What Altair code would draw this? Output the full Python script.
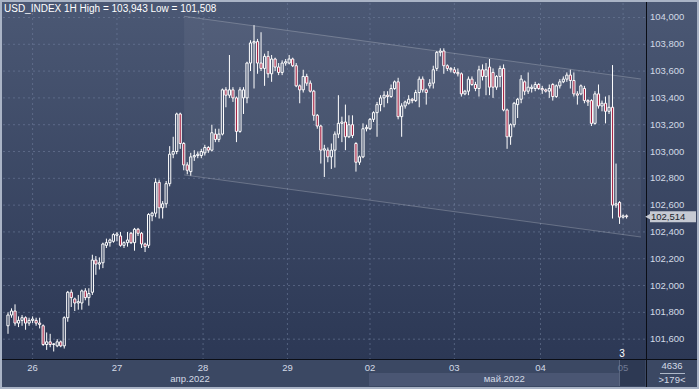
import altair as alt
import pandas as pd

title_text = "USD_INDEX 1H High = 103,943 Low = 101,508"

bar_index = list(range(-7, 170))
opens = [
    101.70, 101.78, 101.81, 101.72, 101.74, 101.76, 101.72,
    101.74, 101.74, 101.72, 101.70, 101.56, 101.58, 101.56, 101.55, 101.58, 101.55,
    101.76, 101.95, 101.90, 101.87, 101.87, 101.96, 101.91, 101.95, 102.19, 102.16,
    102.17, 102.30, 102.32, 102.33, 102.375, 102.37, 102.30, 102.32, 102.39, 102.32,
    102.42, 102.39, 102.31, 102.30, 102.52, 102.54, 102.77, 102.58, 102.61, 102.76,
    102.98, 103.00, 103.28, 103.06, 102.90, 102.85, 102.96, 102.97, 102.97, 102.99,
    103.03, 103.01, 103.13, 103.09, 103.13, 103.46, 103.42, 103.46, 103.40, 103.15,
    103.40, 103.40, 103.66, 103.81, 103.82, 103.66, 103.62, 103.71, 103.58, 103.69,
    103.63, 103.59, 103.66, 103.66, 103.69, 103.64, 103.49, 103.46, 103.56, 103.51,
    103.45, 103.27, 103.19, 103.01, 103.01, 102.96, 103.01, 103.13, 103.21, 103.22,
    103.11, 103.20, 103.06, 102.92, 102.96, 103.17, 103.17, 103.24, 103.29, 103.35,
    103.40, 103.42, 103.41, 103.47, 103.52, 103.26, 103.34, 103.36, 103.39, 103.38,
    103.44, 103.54, 103.46, 103.49, 103.51, 103.62, 103.74, 103.75, 103.64, 103.62,
    103.61, 103.59, 103.58, 103.43, 103.45, 103.54, 103.50, 103.47, 103.61, 103.56,
    103.63, 103.59, 103.48, 103.56, 103.62, 103.31, 103.11, 103.20, 103.35, 103.39,
    103.52, 103.45, 103.47, 103.47, 103.50, 103.47, 103.46, 103.45, 103.50, 103.41,
    103.49, 103.52, 103.54, 103.57, 103.53, 103.43, 103.43, 103.47, 103.38, 103.38,
    103.21, 103.43, 103.34, 103.36, 103.30, 103.33, 102.60, 102.62, 102.51, 102.52,
]
highs = [
    101.80, 101.83, 101.86, 101.77, 101.78, 101.77, 101.76,
    101.77, 101.76, 101.76, 101.71, 101.65, 101.64, 101.57, 101.60, 101.59, 101.77,
    101.96, 101.97, 101.91, 101.93, 101.97, 101.98, 101.98, 102.23, 102.22, 102.21,
    102.32, 102.35, 102.35, 102.39, 102.40, 102.40, 102.33, 102.40, 102.40, 102.43,
    102.43, 102.40, 102.32, 102.54, 102.55, 102.80, 102.79, 102.63, 102.78, 103.04,
    103.11, 103.29, 103.29, 103.07, 102.92, 102.99, 103.01, 103.00, 103.02, 103.05,
    103.04, 103.20, 103.17, 103.17, 103.47, 103.48, 103.72, 103.48, 103.41, 103.48,
    103.48, 103.67, 103.83, 103.943, 103.84, 103.89, 103.73, 103.75, 103.72, 103.70,
    103.66, 103.68, 103.69, 103.72, 103.70, 103.66, 103.50, 103.61, 103.58, 103.53,
    103.46, 103.28, 103.20, 103.05, 103.03, 103.06, 103.15, 103.42, 103.26, 103.35,
    103.27, 103.27, 103.07, 102.97, 103.21, 103.20, 103.25, 103.30, 103.37, 103.42,
    103.45, 103.45, 103.50, 103.53, 103.55, 103.36, 103.38, 103.42, 103.40, 103.46,
    103.56, 103.56, 103.47, 103.54, 103.64, 103.75, 103.77, 103.77, 103.65, 103.63,
    103.63, 103.62, 103.59, 103.46, 103.56, 103.56, 103.52, 103.64, 103.65, 103.66,
    103.69, 103.62, 103.57, 103.64, 103.65, 103.32, 103.21, 103.37, 103.40, 103.57,
    103.53, 103.59, 103.50, 103.52, 103.51, 103.49, 103.47, 103.50, 103.51, 103.50,
    103.54, 103.56, 103.59, 103.61, 103.59, 103.45, 103.50, 103.49, 103.39, 103.39,
    103.45, 103.50, 103.38, 103.41, 103.42, 103.645, 102.91, 102.63, 102.53, 102.53,
]
lows = [
    101.64, 101.76, 101.70, 101.69, 101.70, 101.67, 101.70,
    101.72, 101.70, 101.68, 101.55, 101.52, 101.54, 101.508, 101.54, 101.54, 101.53,
    101.73, 101.84, 101.81, 101.82, 101.82, 101.89, 101.85, 101.93, 102.08, 102.12,
    102.13, 102.28, 102.29, 102.32, 102.33, 102.29, 102.28, 102.29, 102.31, 102.26,
    102.37, 102.28, 102.25, 102.28, 102.48, 102.51, 102.50, 102.50, 102.58, 102.74,
    102.95, 102.98, 103.02, 102.86, 102.83, 102.82, 102.93, 102.95, 102.95, 102.97,
    102.99, 103.00, 103.07, 103.07, 103.12, 103.33, 103.40, 103.37, 103.07, 103.14,
    103.28, 103.36, 103.60, 103.47, 103.58, 103.60, 103.49, 103.55, 103.52, 103.60,
    103.57, 103.57, 103.64, 103.65, 103.63, 103.48, 103.36, 103.44, 103.49, 103.44,
    103.23, 103.17, 102.91, 102.81, 102.92, 102.87, 102.88, 103.10, 103.07, 103.01,
    103.10, 103.10, 102.85, 102.90, 102.95, 103.15, 103.16, 103.22, 103.11, 103.30,
    103.33, 103.36, 103.40, 103.46, 103.24, 103.11, 103.32, 103.35, 103.36, 103.37,
    103.33, 103.44, 103.35, 103.47, 103.47, 103.60, 103.71, 103.58, 103.60, 103.59,
    103.58, 103.56, 103.41, 103.42, 103.42, 103.49, 103.45, 103.41, 103.53, 103.42,
    103.42, 103.40, 103.46, 103.48, 103.30, 103.02, 103.05, 103.18, 103.25, 103.36,
    103.42, 103.43, 103.44, 103.45, 103.46, 103.43, 103.44, 103.40, 103.38, 103.40,
    103.47, 103.51, 103.52, 103.47, 103.41, 103.35, 103.42, 103.36, 103.34, 103.19,
    103.20, 103.32, 103.30, 103.21, 103.28, 102.50, 102.58, 102.46, 102.50, 102.50,
]
closes = [
    101.78, 101.81, 101.72, 101.74, 101.76, 101.72, 101.74,
    101.75, 101.72, 101.71, 101.56, 101.58, 101.56, 101.565, 101.58, 101.55, 101.76,
    101.95, 101.91, 101.87, 101.88, 101.96, 101.91, 101.94, 102.19, 102.16, 102.17,
    102.31, 102.32, 102.34, 102.38, 102.385, 102.30, 102.32, 102.34, 102.32, 102.42,
    102.39, 102.31, 102.29, 102.53, 102.54, 102.77, 102.58, 102.61, 102.76, 102.98,
    103.00, 103.28, 103.06, 102.90, 102.86, 102.96, 102.97, 102.98, 103.00, 103.03,
    103.01, 103.14, 103.09, 103.13, 103.46, 103.42, 103.46, 103.40, 103.15, 103.46,
    103.46, 103.66, 103.81, 103.82, 103.66, 103.62, 103.71, 103.58, 103.69, 103.63,
    103.59, 103.66, 103.67, 103.69, 103.64, 103.49, 103.46, 103.56, 103.51, 103.45,
    103.27, 103.19, 103.01, 103.02, 102.96, 103.01, 103.13, 103.21, 103.22, 103.11,
    103.20, 103.12, 102.92, 102.96, 103.17, 103.18, 103.24, 103.29, 103.35, 103.40,
    103.42, 103.41, 103.47, 103.52, 103.26, 103.34, 103.37, 103.39, 103.38, 103.44,
    103.54, 103.46, 103.44, 103.51, 103.61, 103.74, 103.75, 103.64, 103.62, 103.61,
    103.59, 103.58, 103.43, 103.45, 103.54, 103.50, 103.47, 103.61, 103.56, 103.61,
    103.48, 103.48, 103.56, 103.62, 103.31, 103.11, 103.20, 103.36, 103.39, 103.54,
    103.45, 103.48, 103.48, 103.50, 103.47, 103.46, 103.45, 103.47, 103.41, 103.49,
    103.52, 103.54, 103.57, 103.53, 103.43, 103.42, 103.49, 103.38, 103.37, 103.21,
    103.43, 103.34, 103.36, 103.30, 103.33, 102.60, 102.61, 102.51, 102.52, 102.514,
]

y_ticks = [101.6, 101.8, 102.0, 102.2, 102.4, 102.6, 102.8, 103.0, 103.2, 103.4, 103.6, 103.8, 104.0]
y_tick_labels = ["101,600", "101,800", "102,000", "102,200", "102,400", "102,600", "102,800",
                 "103,000", "103,200", "103,400", "103,600", "103,800", "104,000"]
day_pos = [0, 24, 48.5, 72.5, 96, 120, 144.5, 168]
day_labels = ["26", "27", "28", "29", "02", "03", "04", "05"]
month_pos = [44.8, 134.2]
month_labels = ["апр.2022", "май.2022"]
channel_x = [43.1, 173.1]
channel_top = [104.009, 103.541]
channel_bottom = [102.825, 102.362]
last_price = [102.514]
last_label = ["102,514"]
corner_top = ["4636"]
corner_bottom = [">179<"]
marker_label = ["3"]

FONT = "Liberation Sans"
LABEL = "#d3dae6"

df = pd.DataFrame({"i": bar_index, "o": opens, "h": highs, "l": lows, "c": closes})
df["top"] = df[["o", "c"]].max(axis=1)
df["bot"] = df[["o", "c"]].min(axis=1)
df["bear"] = df["c"] < df["o"]

x_scale = alt.Scale(domain=[-7.0, 173.1], nice=False, zero=False)
y_scale = alt.Scale(domain=[101.452, 104.108], nice=False, zero=False)

one = pd.DataFrame({"k": [0]})


def box(x, x2, y, y2, color):
    return alt.Chart(one).mark_rect(color=color).encode(
        x=alt.value(x), x2=alt.value(x2), y=alt.value(y), y2=alt.value(y2))


bg_all = box(-1, 694, -1, 384, "#3b4863")
grad = alt.Chart(one).mark_rect(
    color=alt.LinearGradient(
        gradient="linear",
        stops=[alt.GradientStop(color="#4b5874", offset=0),
               alt.GradientStop(color="#2c3855", offset=1)],
        x1=0, x2=0, y1=0, y2=1)
).encode(x=alt.value(-1), x2=alt.value(694), y=alt.value(-1), y2=alt.value(356))
may_box = box(366, 616, 370, 383, "#4a5673")
d05_box = box(616, 642, 357, 383, "#2d3953")
d05_line = box(616, 617, 357, 383, "#5a6680")

hgrid = alt.Chart(pd.DataFrame({"p": y_ticks})).mark_rule(
    color="#7282a0", strokeDash=[2, 3], strokeWidth=1, opacity=0.55
).encode(x=alt.value(0), x2=alt.value(643), y=alt.Y("p:Q", scale=y_scale, axis=None))
vgrid = alt.Chart(pd.DataFrame({"d": day_pos})).mark_rule(
    color="#7282a0", strokeDash=[2, 3], strokeWidth=1, opacity=0.55
).encode(x=alt.X("d:Q", scale=x_scale, axis=None), y=alt.value(0), y2=alt.value(356))

ch = pd.DataFrame({"x": channel_x, "t": channel_top, "b": channel_bottom})
ch_area = alt.Chart(ch).mark_area(color="#ffffff", opacity=0.05).encode(
    x=alt.X("x:Q", scale=x_scale, axis=None),
    y=alt.Y("t:Q", scale=y_scale, axis=None), y2="b:Q")
ch_seg = pd.DataFrame({"x": [channel_x[0], channel_x[0]], "x2": [channel_x[1], channel_x[1]],
                       "y": [channel_top[0], channel_bottom[0]],
                       "y2": [channel_top[1], channel_bottom[1]]})
ch_lines = alt.Chart(ch_seg).mark_rule(color="#ffffff", opacity=0.22, strokeWidth=1).encode(
    x=alt.X("x:Q", scale=x_scale, axis=None), x2="x2:Q",
    y=alt.Y("y:Q", scale=y_scale, axis=None), y2="y2:Q")

wick_up = alt.Chart(df).mark_rule(color="#ffffff", strokeWidth=1, clip=True).encode(
    x=alt.X("i:Q", scale=x_scale, axis=None),
    y=alt.Y("h:Q", scale=y_scale, axis=None), y2="top:Q")
wick_dn = alt.Chart(df).mark_rule(color="#ffffff", strokeWidth=1, clip=True).encode(
    x=alt.X("i:Q", scale=x_scale, axis=None),
    y=alt.Y("bot:Q", scale=y_scale, axis=None), y2="l:Q")
bodies = alt.Chart(df).mark_bar(width=2.2, stroke="#ffffff", strokeWidth=1, clip=True).encode(
    x=alt.X("i:Q", scale=x_scale, axis=None),
    y=alt.Y("top:Q", scale=y_scale, axis=None), y2="bot:Q",
    fill=alt.condition(alt.datum.bear, alt.value("#a82848"), alt.value("transparent")))

vline = box(643, 644, -1, 384, "#0b0e16")
hline = box(-1, 694, 356, 357, "#0b0e16")

ylabels = alt.Chart(pd.DataFrame({"p": y_ticks, "lab": y_tick_labels})).mark_text(
    align="left", baseline="middle", font=FONT, fontSize=9.5, color=LABEL
).encode(x=alt.value(647), y=alt.Y("p:Q", scale=y_scale, axis=None), text="lab:N")

title = alt.Chart(pd.DataFrame({"t": [title_text]})).mark_text(
    align="left", baseline="alphabetic", font=FONT, fontSize=10, color="#ffffff"
).encode(x=alt.value(1), y=alt.value(9), text="t:N")

days = alt.Chart(pd.DataFrame({"d": day_pos, "lab": day_labels})).mark_text(
    align="center", baseline="middle", font=FONT, fontSize=9.5
).encode(x=alt.X("d:Q", scale=x_scale, axis=None), y=alt.value(364.5), text="lab:N",
         color=alt.condition(alt.datum.lab == "05", alt.value("#6f7a93"), alt.value(LABEL)))
months = alt.Chart(pd.DataFrame({"m": month_pos, "lab": month_labels})).mark_text(
    align="center", baseline="middle", font=FONT, fontSize=9.5, color=LABEL
).encode(x=alt.X("m:Q", scale=x_scale, axis=None), y=alt.value(375.5), text="lab:N")

mark3 = alt.Chart(pd.DataFrame({"t": marker_label})).mark_text(
    align="center", baseline="middle", font=FONT, fontSize=10, color="#ffffff"
).encode(x=alt.value(619), y=alt.value(351), text="t:N")

c_top = alt.Chart(pd.DataFrame({"t": corner_top})).mark_text(
    align="center", baseline="middle", font=FONT, fontSize=9.5, color=LABEL
).encode(x=alt.value(669), y=alt.value(363), text="t:N")
c_line = box(657, 682, 370, 371, "#aeb8c8")
c_bot = alt.Chart(pd.DataFrame({"t": corner_bottom})).mark_text(
    align="center", baseline="middle", font=FONT, fontSize=9.5, color=LABEL
).encode(x=alt.value(669), y=alt.value(377), text="t:N")

lp = pd.DataFrame({"p": last_price, "t": last_label})
price_box = alt.Chart(lp).mark_rule(color="#c6cad3", strokeWidth=11, strokeCap="butt").encode(
    x=alt.value(647), x2=alt.value(693), y=alt.Y("p:Q", scale=y_scale, axis=None))
price_tip = alt.Chart(lp).mark_point(shape="triangle-left", filled=True, size=40,
                                     color="#c6cad3", opacity=1).encode(
    x=alt.value(645), y=alt.Y("p:Q", scale=y_scale, axis=None))
price_txt = alt.Chart(lp).mark_text(
    align="left", baseline="middle", font=FONT, fontSize=9.5, color="#1a1f2c"
).encode(x=alt.value(648), y=alt.Y("p:Q", scale=y_scale, axis=None), text="t:N")

chart = alt.layer(
    bg_all, grad, may_box, d05_box, d05_line,
    hgrid, vgrid, ch_area, ch_lines,
    wick_up, wick_dn, bodies,
    vline, hline, ylabels,
    title, days, months, mark3, c_top, c_line, c_bot,
    price_box, price_tip, price_txt,
).properties(
    width=643, height=356, background="#aab4c6",
    padding={"left": 3, "top": 3, "right": 53, "bottom": 30},
    autosize=alt.AutoSizeParams(type="none"),
).configure_view(stroke=None)

chart.save("out.html", embed_options={"renderer": "svg", "actions": False})
